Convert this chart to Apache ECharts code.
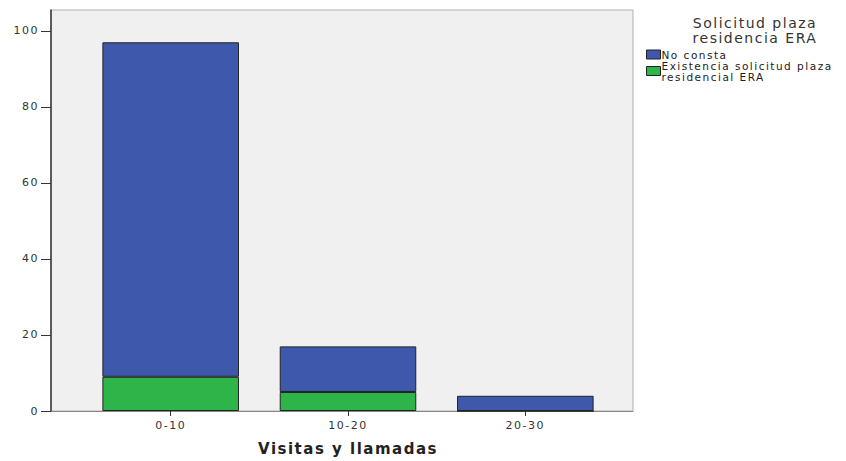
<!DOCTYPE html>
<html><head><meta charset="utf-8">
<script src="https://cdn.jsdelivr.net/npm/echarts@6/dist/echarts.min.js"></script>
<style>html,body{margin:0;padding:0;background:#fff}#c{width:846px;height:461px}
#c text{letter-spacing:1.5px}</style>
</head><body><div id="c"></div>
<script>
const categories = ["0-10", "10-20", "20-30"];
const noConsta = [88, 12, 4];
const existencia = [9, 5, 0];
const yTicks = [0, 20, 40, 60, 80, 100];
const legendTitle = "Solicitud plaza\nresidencia ERA";
const xTitle = "Visitas y llamadas";
const seriesNames = ["No consta", "Existencia solicitud plaza\nresidencial ERA"];

const font = "DejaVu Sans";
const chart = echarts.init(document.getElementById('c'), null, { renderer: 'svg' });
chart.setOption({
  animation: false,
  textStyle: { fontFamily: font },
  title: {
    text: legendTitle, left: 750, top: 10, textAlign: 'center',
    textStyle: { fontFamily: font, fontSize: 14, fontWeight: 'normal', color: '#333', lineHeight: 15 }
  },
  legend: {
    data: seriesNames, orient: 'vertical', left: 641, top: 44,
    icon: 'rect', itemWidth: 14, itemHeight: 9, itemGap: 0,
    textStyle: { fontFamily: font, fontSize: 10.5, color: '#222', lineHeight: 11, padding: [0,0,0,-4] },
    itemStyle: { borderColor: '#222', borderWidth: 1 }
  },
  grid: [
    { left: 51, right: 213, top: 10, bottom: 50, show: true, backgroundColor: '#f0f0f0', borderColor: '#b0b0b0', borderWidth: 1 },
    { left: 82, right: 232, top: 10, bottom: 50 }
  ],
  xAxis: [
    { gridIndex: 0, type: 'category', data: categories, axisLine: { lineStyle: { color: '#888', width: 1 } },
      axisTick: { show: false }, axisLabel: { show: false } },
    { gridIndex: 1, type: 'category', data: categories, axisLine: { show: false },
      axisTick: { show: true, alignWithLabel: true, length: 5, lineStyle: { color: '#333' } },
      axisLabel: { fontFamily: font, fontSize: 11, color: '#333', margin: 9 },
      name: xTitle, nameLocation: 'middle', nameGap: 30,
      nameTextStyle: { fontFamily: font, fontSize: 15, fontWeight: 'bold', color: '#222' } }
  ],
  yAxis: [
    { gridIndex: 0, type: 'value', min: 0, max: 105.5,
      axisLine: { show: true, lineStyle: { color: '#333', width: 1.5 } },
      axisTick: { show: true, length: 10, customValues: yTicks, lineStyle: { color: '#333' } },
      axisLabel: { customValues: yTicks, fontFamily: font, fontSize: 11, color: '#333', margin: 12 },
      splitLine: { show: false } },
    { gridIndex: 1, type: 'value', min: 0, max: 105.5, show: false, splitLine: { show: false } }
  ],
  series: [
    { name: seriesNames[1], type: 'bar', stack: 's', xAxisIndex: 1, yAxisIndex: 1, data: existencia,
      barCategoryGap: '23%', itemStyle: { color: '#2db54a', borderColor: '#222', borderWidth: 1 } },
    { name: seriesNames[0], type: 'bar', stack: 's', xAxisIndex: 1, yAxisIndex: 1, data: noConsta,
      barCategoryGap: '23%', itemStyle: { color: '#3e58ab', borderColor: '#222', borderWidth: 1 } }
  ]
});
</script></body></html>
